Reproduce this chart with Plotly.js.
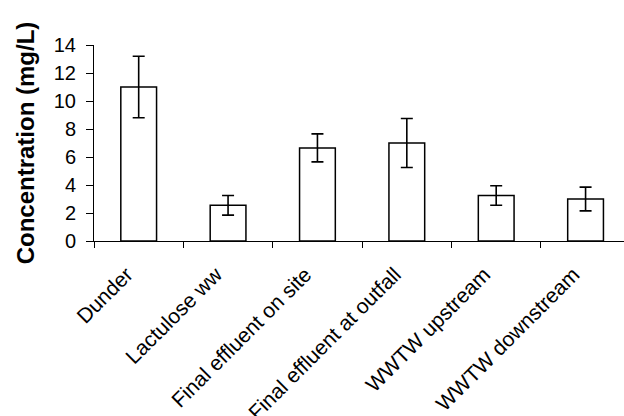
<!DOCTYPE html>
<html>
<head>
<meta charset="utf-8">
<script src="https://cdn.plot.ly/plotly-3.0.1.min.js"></script>
<style>
  html, body { margin: 0; padding: 0; background: #fff; overflow: hidden; }
  #chart { width: 624px; height: 416px; }
</style>
</head>
<body>
<div id="chart"></div>
<script>
// Sampling sites and mean concentrations (mg/L) with their error margins
const sites = [
  "Dunder",
  "Lactulose ww",
  "Final effluent on site",
  "Final effluent at outfall",
  "WWTW upstream",
  "WWTW downstream"
];
const concentration = [11.0, 2.55, 6.65, 7.0, 3.25, 3.0];
const errorMargin = [2.2, 0.7, 1.0, 1.75, 0.7, 0.85];
const yTicks = [0, 2, 4, 6, 8, 10, 12, 14];

const font = "Liberation Sans, Arial, Helvetica, sans-serif";

const trace = {
  type: "bar",
  x: sites,
  y: concentration,
  marker: { color: "#ffffff", line: { color: "#000000", width: 1.5 } },
  error_y: {
    type: "data",
    array: errorMargin,
    visible: true,
    color: "#000000",
    thickness: 1.6,
    width: 6
  },
  hoverinfo: "skip"
};

const layout = {
  width: 624,
  height: 416,
  margin: { l: 94, r: 0, t: 45, b: 175 },
  paper_bgcolor: "#ffffff",
  plot_bgcolor: "#ffffff",
  showlegend: false,
  bargap: 0.6,
  font: { family: font, color: "#000000" },
  xaxis: {
    type: "category",
    range: [-0.5, 5.43],
    tickson: "boundaries",
    ticks: "outside",
    ticklen: 6,
    tickwidth: 1,
    tickcolor: "#000000",
    tickangle: -45,
    ticklabelstandoff: 12,
    ticklabelshift: -12,
    tickfont: { family: font, size: 21, color: "#000000" },
    showline: true,
    linecolor: "#000000",
    linewidth: 1,
    showgrid: false,
    zeroline: false
  },
  yaxis: {
    range: [0, 14],
    tickvals: yTicks,
    ticktext: yTicks.map(String),
    ticks: "outside",
    ticklen: 7,
    tickwidth: 1,
    tickcolor: "#000000",
    ticklabelstandoff: 6,
    tickfont: { family: font, size: 20, color: "#000000" },
    showline: true,
    linecolor: "#000000",
    linewidth: 1,
    showgrid: false,
    zeroline: false,
    title: {
      text: "Concentration (mg/L)",
      font: { family: font, size: 24, color: "#000000", weight: 700 },
      standoff: 12
    }
  }
};

Plotly.newPlot("chart", [trace], layout, { staticPlot: true, displayModeBar: false });
</script>
</body>
</html>
